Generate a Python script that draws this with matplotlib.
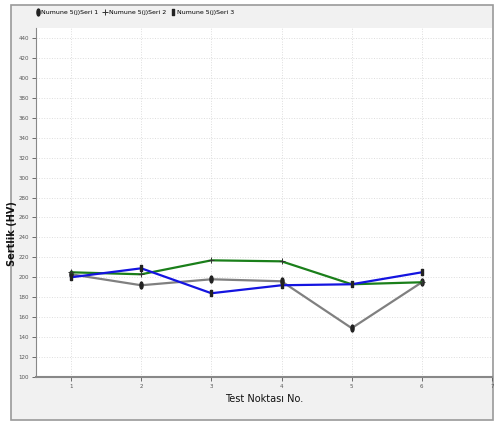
import matplotlib
matplotlib.use("Agg")
import matplotlib.pyplot as plt
from matplotlib.path import Path
from matplotlib.transforms import Affine2D
from matplotlib.patches import Rectangle

# values
test_points = [1, 2, 3, 4, 5, 6]
seri1 = [203, 192, 198, 196, 149, 195]
seri2 = [205, 203, 217, 216, 193, 195]
seri3 = [200, 209, 184, 192, 193, 205]
labels = ["Numune 5(j)Seri 1", "Numune 5(j)Seri 2", "Numune 5(j)Seri 3"]
colors = ["#808080", "#1a7f1a", "#1414e0"]
y_ticks = list(range(100, 460, 20))
x_ticks = [1, 2, 3, 4, 5, 6, 7]

plt.rcParams['font.family'] = ['DejaVu Sans']

# narrow marker shapes
ellipse = Path.unit_circle().transformed(Affine2D().scale(0.45, 1.0))
bar = Path([(-0.4, -1), (0.4, -1), (0.4, 1), (-0.4, 1), (-0.4, -1)],
           [Path.MOVETO, Path.LINETO, Path.LINETO, Path.LINETO, Path.CLOSEPOLY])

fig = plt.figure(figsize=(4.98, 4.21), dpi=100)
fig.patch.set_facecolor("white")
fig.patches.append(Rectangle((11 / 498, 1 - 420 / 421), (493 - 11) / 498, (420 - 5) / 421,
                             transform=fig.transFigure, facecolor="#f1f1f1",
                             edgecolor="#9a9a9a", linewidth=1.2, zorder=-5))

ax = fig.add_axes([36 / 498, 1 - 377 / 421, (492 - 36) / 498, (377 - 28) / 421])
ax.set_facecolor("white")

ax.plot(test_points, seri1, color=colors[0], lw=1.6, marker=ellipse, ms=5,
        mfc="#222222", mec="#222222", label=labels[0])
ax.plot(test_points, seri2, color=colors[1], lw=1.6, marker="+", ms=5,
        mec="#333333", mew=0.7, label=labels[1])
ax.plot(test_points, seri3, color=colors[2], lw=1.6, marker=bar, ms=5,
        mfc="#222222", mec="#222222", label=labels[2])

ax.set_xlim(0.5, 6.95)
ax.set_ylim(100, 450)
ax.set_xticks(x_ticks)
ax.set_yticks(y_ticks)
ax.tick_params(labelsize=4, length=3, width=0.6, pad=2, colors="#555555")
ax.grid(True, color="#dddddd", linestyle=":", linewidth=0.7)

for side in ["top", "right"]:
    ax.spines[side].set_visible(False)
ax.spines["left"].set_color("#888888")
ax.spines["bottom"].set_color("#888888")
ax.spines["bottom"].set_linewidth(1.5)

ax.set_xlabel("Test Noktası No.", fontsize=7, labelpad=4, color="#111111")
ax.set_ylabel("Sertlik (HV)", fontsize=7, fontweight="bold", color="#111111")
ax.yaxis.set_label_coords(-0.042, 0.41)

fig.legend(loc="upper left", bbox_to_anchor=(30 / 498, 1 - 4 / 421), ncol=3,
           frameon=False, fontsize=4.5, handlelength=0.6, handletextpad=0.3,
           columnspacing=0.8)
leg = fig.legends[0]
for h in leg.legend_handles:
    h.set_linestyle("none")

fig.savefig("out.png", dpi=100)
